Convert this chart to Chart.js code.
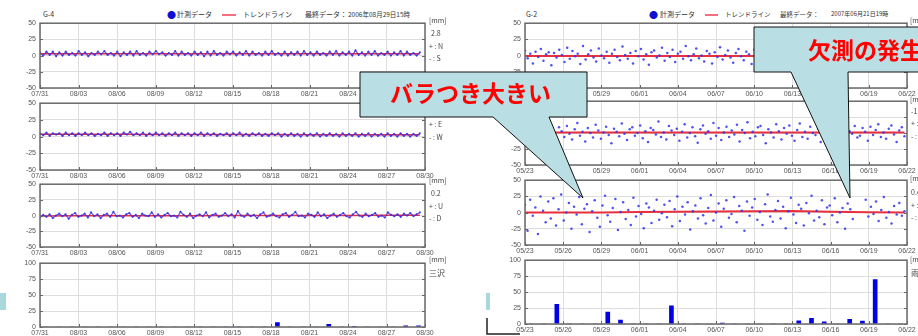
<!DOCTYPE html>
<html lang="ja">
<head>
<meta charset="utf-8">
<script src="https://cdn.jsdelivr.net/npm/chart.js@4.4.1/dist/chart.umd.min.js"></script>
<style>
  html, body { margin:0; padding:0; background:#fff; width:918px; height:336px; overflow:hidden; position:relative;
    font-family:"Noto Sans CJK JP","Noto Sans",sans-serif; }
  canvas { position:absolute; }
  .t { position:absolute; white-space:nowrap; font-size:7px; color:#444; line-height:1; z-index:2; }
  .lg { position:absolute; white-space:nowrap; font-size:7px; color:#333; line-height:1; }
  .call { position:absolute; white-space:nowrap; font-size:23px; font-weight:700; color:#ff0000; line-height:1; z-index:6; }
</style>
</head>
<body>

<!-- headers / legends -->
<div class="lg" style="left:43px;top:11px">G-4</div>
<div class="lg" style="left:167px;top:10px;color:#1010d0;font-size:9px">●</div>
<div class="lg" style="left:177px;top:11px">計測データ</div>
<div style="position:absolute;left:222px;top:14px;width:14px;height:2px;background:#f07080"></div>
<div class="lg" style="left:243px;top:11px">トレンドライン</div>
<div class="lg" style="left:305px;top:11px">最終データ：</div>
<div class="lg" style="left:348px;top:11px;font-size:6.5px">2006年08月29日15時</div>

<div class="lg" style="left:526px;top:11px">G-2</div>
<div class="lg" style="left:649px;top:10px;color:#1010d0;font-size:9px">●</div>
<div class="lg" style="left:660px;top:11px">計測データ</div>
<div style="position:absolute;left:705px;top:14px;width:13px;height:2px;background:#f07080"></div>
<div class="lg" style="left:725px;top:11px;font-size:6.5px">トレンドライン</div>
<div class="lg" style="left:780px;top:11px;font-size:6.5px">最終データ：</div>
<div class="lg" style="left:831px;top:11px;font-size:6px">2007年06月21日19時</div>

<!-- right-hand axis notes, left panel -->
<div class="t" style="left:429px;top:17px">[mm]</div>
<div class="t" style="left:431px;top:30px">2.8</div>
<div class="t" style="left:429px;top:43px">+ : N</div>
<div class="t" style="left:429px;top:55px">- : S</div>
<div class="t" style="left:429px;top:97px">[mm]</div>
<div class="t" style="left:431px;top:109px">-0.3</div>
<div class="t" style="left:429px;top:121px">+ : E</div>
<div class="t" style="left:429px;top:134px">- : W</div>
<div class="t" style="left:429px;top:177px">[mm]</div>
<div class="t" style="left:431px;top:190px">0.2</div>
<div class="t" style="left:429px;top:203px">+ : U</div>
<div class="t" style="left:429px;top:215px">- : D</div>
<div class="t" style="left:429px;top:256px">[mm]</div>
<div class="t" style="left:429px;top:269px;font-size:8px">三沢</div>

<!-- right-hand axis notes, right panel (clipped by the window) -->
<div class="t" style="left:910px;top:17px">[mm]</div>
<div class="t" style="left:910px;top:96px">[mm]</div>
<div class="t" style="left:911px;top:108px">-1.6</div>
<div class="t" style="left:911px;top:120px">+ : E</div>
<div class="t" style="left:911px;top:133px">- : W</div>
<div class="t" style="left:910px;top:175px">[mm]</div>
<div class="t" style="left:911px;top:189px">0.4</div>
<div class="t" style="left:911px;top:202px">+ : U</div>
<div class="t" style="left:911px;top:214px">- : D</div>
<div class="t" style="left:910px;top:256px">[mm]</div>
<div class="t" style="left:911px;top:269px;font-size:8px">雨量</div>

<!-- callouts and slide leftovers -->
<svg width="918" height="336" style="position:absolute;left:0;top:0;z-index:5">
  <polygon points="360,72 587,72 587,117 549,117 583,198 493,117 360,117" fill="#b9dee3" stroke="#111" stroke-width="1"/>
  <polygon points="754,27 930,27 930,72 848,72 850,198 791,72 754,72" fill="#b9dee3" stroke="#111" stroke-width="1"/>
  <rect x="0" y="293" width="6" height="17" fill="#a8d8dc"/>
  <rect x="486" y="293" width="4" height="17" fill="#a8d8dc"/>
  <path d="M487,318 L487,334 L520,334" fill="none" stroke="#222" stroke-width="1.5"/>
</svg>
<div class="call" style="left:390px;top:81px">バラつき大きい</div>
<div class="call" style="left:808px;top:38px">欠測の発生</div>

<script>
// ---- data ----
const dayLabelsL = ['07/31','08/03','08/06','08/09','08/12','08/15','08/18','08/21','08/24','08/27','08/30'];
const dayLabelsR = ['05/23','05/26','05/29','06/01','06/04','06/07','06/10','06/13','06/16','06/19','06/22'];
const endDayL = 29.6;   // 2006/08/29 15h
const endDayR = 29.8;   // 2007/06/21 19h

// G-4 displacement [mm], ~4 readings a day
const northL = [5,0,6,1,6,-1,5,0,6,1,4,0,7,1,5,-1,4,1,6,2,7,1,4,0,6,-1,5,1,6,0,7,1,4,0,6,2,7,2,5,0,
  4,1,7,0,6,1,4,0,6,1,5,-1,6,0,7,1,4,0,6,2,6,0,5,1,7,0,6,1,4,0,6,1,7,1,4,0,6,0,5,1,
  6,0,7,1,5,0,6,1,4,0,6,1,7,0,5,1,6,0,8,1,5,0,6,1,7,0,4,1,6,0,5,1,7,0,6,1,4,0,5];
const eastL = [5,2,6,1,5,3,5,1,6,2,5,1,5,2,6,2,5,1,4,2,6,1,5,2,5,1,6,3,7,2,5,2,6,1,5,2,6,2,5,1,
  5,2,6,1,5,2,5,1,5,2,6,1,5,2,5,1,4,2,5,1,5,2,6,1,4,1,5,2,5,1,4,1,5,2,5,0,4,1,5,1,
  4,0,5,1,4,1,5,0,4,1,5,1,4,0,5,1,4,1,5,0,4,1,5,0,4,1,4,0,5,1,4,0,5,1,4,0,4,1,5];
const upL = [-3,1,-2,2,-4,0,3,-1,2,-5,1,4,-2,0,3,-3,5,-1,2,-4,1,3,-2,6,-1,0,-3,2,4,-2,1,-4,3,0,-1,5,-2,2,-3,1,
  4,-1,0,-3,6,1,-2,3,-4,0,2,-1,5,-3,1,3,-2,0,4,-1,2,-3,7,0,-2,3,-1,1,-4,2,5,-2,0,3,-1,-3,2,4,-2,1,
  6,-1,0,-3,3,1,-2,5,-1,2,-4,0,3,-2,1,4,-1,-3,2,6,0,-2,3,-1,1,4,-2,0,-3,5,1,-1,2,-2,3,0,4,-1,2,5];
const trendDaysL = [0,3,6,9,12,15,18,21,24,27,29.6];
const northTrendL = [2.8,2.8,2.8,2.8,2.8,2.8,2.8,2.8,2.8,2.8,2.8];
const eastTrendL  = [3.6,3.5,3.4,3.3,3.2,3.1,3.0,2.9,2.8,2.7,2.6];
const upTrendL    = [-0.5,-0.4,-0.3,-0.2,-0.1,0,0.1,0.2,0.3,0.4,0.5];
// daily rainfall [mm] from 07/31
const rainL = [0,0,0,0,0,0,0,0,0,0,0,0,0,0,0,0,0,0,7,0,0,0,4,0,0.5,0,0,0,2,2];

// G-2 displacement [mm], ~5 readings a day
const northR = [8,-4,3,-12,6,-2,10,-8,2,5,-15,4,-3,9,1,-10,12,-5,7,-1,3,-13,15,-6,2,8,-3,-9,11,0,
  -4,6,-11,3,9,-2,-7,14,1,-5,4,-12,7,-1,10,-6,2,-14,5,8,-3,0,12,-8,4,-2,9,-10,3,6,
  -5,15,-1,-7,2,11,-4,0,-9,7,3,-12,5,-2,13,-6,1,8,-3,-11,4,10,-1,-7,6,2,-13,9,0,-4,
  12,-8,3,7,-2,-10,5,14,-5,1,-6,8,-3,11,-9,2,4,-1,-12,7,0,10,-4,3,-8,6,-2,13,-7,1,
  9,-5,4,-11,2,8,-3,0,12,-6,5,-1,-9,7,3,-4,10,-2,6,-7,1,9,-5,3,0];
const eastR = [-5,10,2,-12,7,-3,14,0,-8,5,12,-2,-15,9,3,-6,11,-1,-10,6,16,-4,2,-13,8,0,-7,13,4,-9,
  1,10,-3,-16,7,2,-5,15,-1,-11,6,9,-4,0,12,-8,3,-14,8,5,-2,18,-6,1,-10,11,4,-3,7,-12,
  2,14,-7,0,9,-5,-15,6,12,-1,3,-9,16,-4,8,-11,1,10,-6,4,-2,13,-13,5,0,17,-8,2,-5,9,
  11,-3,-16,6,1,-7,14,3,-10,8,-1,12,-4,-12,5,15,-6,2,-9,10,0,-3,7,-14,4,13,-2,-8,9,1,
  -11,6,16,-5,3,-1,11,-7,-4,8,2,-12,10,-3,5,14,-6,1,-9,7,12,-2,-14,4,9,-5];
const upR = [12,-28,20,-5,8,-33,25,3,-15,17,-9,22,-20,5,28,-12,0,15,-25,9,-3,24,-18,6,13,-30,2,19,-8,-22,
  11,26,-4,-14,7,21,-27,1,16,-10,4,-19,23,-6,10,-2,-24,14,8,-16,3,20,-11,-1,12,-7,18,-21,5,25,
  -13,9,-3,16,-26,2,11,-9,22,-4,-17,7,27,-12,0,14,-22,6,19,-8,-2,24,-15,10,3,-28,17,-5,8,21,
  -11,1,-19,13,28,-6,-14,4,18,-9,9,-24,2,23,-3,-16,12,6,-20,15,-1,26,-12,3,-7,19,-18,8,11,-4,
  22,-15,0,7,-25,14,5,-10,null,null,null,null,20,-6,9,-2,17,-13,4,24,-8,1,-17,10,-3,15,-5,2];
const trendDaysR = [0,3,6,9,12,15,18,21,24,27,29.8];
const northTrendR = [-0.5,-0.5,-0.5,-0.5,-0.5,-0.5,-0.5,-0.5,-0.5,-0.5,-0.5];
const eastTrendR  = [1,1,1,1,1,1,1,1,1,1,1];
const upTrendR    = [0,0,0.3,0.8,1.2,1.6,2,2.4,1.2,0.6,0.2];
// daily rainfall [mm] from 05/23
const rainR = [0,0,31,0,0,0,18.5,6,0,0,0,28.5,0,0,0,1.5,0,0,0,0,0,5,9,3.5,0,7.5,4.5,69.5,0,0];

// ---- drawing ----
const PAD_L = 30, PAD_R = 30, PAD_T = 6, PAD_B = 14;
const tickFont = { family: 'Liberation Sans', size: 7 };
const BLUE = 'rgba(50,50,235,0.85)';
const RED = '#e8303c';

const frame = {
  id: 'frame',
  afterDatasetsDraw(chart) {
    const a = chart.chartArea, ctx = chart.ctx;
    ctx.save();
    ctx.strokeStyle = '#666';
    ctx.lineWidth = 1;
    chart.scales.y.ticks.forEach(t => {
      const py = Math.round(chart.scales.y.getPixelForValue(t.value)) + 0.5;
      ctx.beginPath();
      ctx.moveTo(a.left, py); ctx.lineTo(a.left + 3, py);
      ctx.moveTo(a.right, py); ctx.lineTo(a.right - 3, py);
      ctx.stroke();
    });
    chart.scales.x.ticks.forEach(t => {
      const px = Math.round(chart.scales.x.getPixelForValue(t.value)) + 0.5;
      ctx.beginPath();
      ctx.moveTo(px, a.bottom); ctx.lineTo(px, a.bottom - 3);
      ctx.stroke();
    });
    ctx.lineWidth = 1.5;
    ctx.strokeStyle = '#6a6a6a';
    ctx.strokeRect(a.left, a.top, a.right - a.left, a.bottom - a.top);
    ctx.restore();
  }
};

function series(values, endDay) {
  const step = endDay / (values.length - 1);
  return values.map((v, i) => ({ x: i * step, y: v }));
}
function trend(days, values) {
  return days.map((d, i) => ({ x: d, y: values[i] }));
}

function makeScales(labels, ymin, ymax) {
  return {
    x: {
      type: 'linear', min: 0, max: 30, offset: false,
      ticks: { stepSize: 3, autoSkip: false, maxRotation: 0, padding: 2, font: tickFont, color: '#555',
        callback: v => labels[Math.round(v / 3)] },
      grid: { color: '#dedede', drawTicks: false, offset: false },
      border: { display: false },
      afterFit: s => { s.height = PAD_B; }
    },
    y: {
      min: ymin, max: ymax,
      ticks: { stepSize: 25, padding: 4, font: tickFont, color: '#555' },
      grid: { color: '#dedede', drawTicks: false },
      border: { display: false },
      afterFit: s => { s.width = PAD_L; }
    },
    y2: {
      position: 'right', display: true,
      ticks: { display: false }, grid: { display: false }, border: { display: false },
      afterFit: s => { s.width = PAD_R; }
    }
  };
}

function place(box) {
  const c = document.createElement('canvas');
  c.width = box.w + PAD_L + PAD_R;
  c.height = box.h + PAD_T + PAD_B;
  c.style.left = (box.x - PAD_L) + 'px';
  c.style.top = (box.y - PAD_T) + 'px';
  document.body.appendChild(c);
  return c;
}

function dispChart(box, labels, values, endDay, tDays, tVals, asLine) {
  new Chart(place(box), {
    type: 'line',
    data: {
      datasets: [
        {
          data: series(values, endDay),
          showLine: asLine, spanGaps: false,
          borderColor: 'rgba(70,40,210,0.8)', borderWidth: 1.2,
          pointRadius: asLine ? 1.1 : 1.25, pointBorderWidth: 0,
          pointBackgroundColor: BLUE
        },
        {
          data: trend(tDays, tVals),
          borderColor: RED, borderWidth: asLine ? 1.5 : 2, pointRadius: 0
        }
      ]
    },
    options: {
      responsive: false, animation: false, events: [],
      layout: { padding: { top: PAD_T } },
      plugins: { legend: { display: false }, tooltip: { enabled: false } },
      scales: makeScales(labels, -50, 50)
    },
    plugins: [frame]
  });
}

function rainChart(box, labels, values) {
  new Chart(place(box), {
    type: 'bar',
    data: {
      datasets: [{
        data: values.map((v, i) => ({ x: i + 0.5, y: v })),
        backgroundColor: '#0000e6', barThickness: 4
      }]
    },
    options: {
      responsive: false, animation: false, events: [],
      layout: { padding: { top: PAD_T } },
      plugins: { legend: { display: false }, tooltip: { enabled: false } },
      scales: makeScales(labels, 0, 100)
    },
    plugins: [frame]
  });
}

const L = 40, LW = 385, R = 525, RW = 382;
dispChart({ x: L, y: 21,  w: LW, h: 67 }, dayLabelsL, northL, endDayL, trendDaysL, northTrendL, true);
dispChart({ x: L, y: 101, w: LW, h: 69 }, dayLabelsL, eastL,  endDayL, trendDaysL, eastTrendL,  true);
dispChart({ x: L, y: 182, w: LW, h: 65 }, dayLabelsL, upL,    endDayL, trendDaysL, upTrendL,    true);
rainChart({ x: L, y: 261, w: LW, h: 66 }, dayLabelsL, rainL);

dispChart({ x: R, y: 21,  w: RW, h: 67 }, dayLabelsR, northR, endDayR, trendDaysR, northTrendR, false);
dispChart({ x: R, y: 99,  w: RW, h: 66 }, dayLabelsR, eastR,  endDayR, trendDaysR, eastTrendR,  false);
dispChart({ x: R, y: 178, w: RW, h: 67 }, dayLabelsR, upR,    endDayR, trendDaysR, upTrendR,    false);
rainChart({ x: R, y: 258, w: RW, h: 66 }, dayLabelsR, rainR);
</script>
</body>
</html>
